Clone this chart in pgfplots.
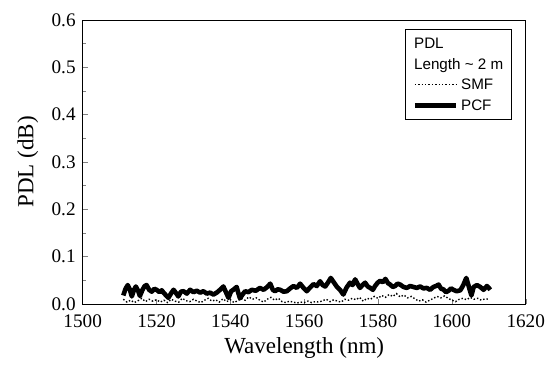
\documentclass[border=0pt]{standalone}
\usepackage{fontspec}
\setmainfont{Liberation Serif}
\newfontfamily\timesf{Liberation Serif}
\newfontfamily\arial{Liberation Sans}
\usepackage{pgfplots}
\usepackage{pgfplotstable}
\pgfplotsset{compat=1.18}

\pgfplotstableread{
x y
1511.0 0.018
1511.6 0.032
1512.2 0.040
1512.8 0.030
1513.3 0.016
1513.9 0.030
1514.4 0.037
1515.0 0.028
1515.5 0.017
1516.2 0.030
1516.8 0.038
1517.3 0.040
1518.0 0.030
1518.7 0.026
1519.4 0.032
1520.0 0.030
1520.8 0.025
1521.4 0.029
1521.9 0.024
1522.6 0.018
1523.2 0.013
1523.9 0.022
1524.6 0.030
1525.2 0.024
1525.9 0.016
1526.6 0.026
1527.3 0.027
1528.2 0.022
1529.1 0.030
1530.0 0.025
1530.9 0.028
1531.8 0.024
1532.7 0.027
1533.6 0.022
1534.5 0.024
1535.4 0.020
1536.3 0.024
1537.2 0.030
1538.1 0.037
1538.8 0.025
1539.5 0.013
1540.2 0.027
1540.8 0.030
1541.7 0.036
1542.2 0.022
1542.6 0.012
1543.3 0.020
1544.0 0.027
1544.9 0.025
1545.8 0.030
1546.9 0.028
1548.0 0.034
1549.0 0.030
1550.0 0.036
1550.8 0.043
1551.5 0.030
1552.1 0.027
1552.8 0.031
1553.5 0.030
1554.4 0.026
1555.3 0.027
1556.2 0.033
1557.1 0.038
1558.0 0.034
1558.9 0.043
1559.8 0.034
1560.7 0.027
1561.6 0.035
1562.5 0.042
1563.4 0.038
1564.3 0.048
1565.0 0.040
1565.7 0.037
1566.5 0.046
1567.2 0.055
1568.0 0.046
1568.8 0.037
1569.7 0.030
1570.6 0.020
1571.5 0.035
1572.4 0.045
1573.1 0.040
1573.8 0.052
1574.5 0.042
1575.1 0.034
1575.8 0.040
1576.5 0.045
1577.2 0.037
1577.9 0.034
1578.6 0.030
1579.2 0.038
1579.9 0.045
1580.6 0.049
1581.3 0.046
1582.0 0.053
1582.7 0.044
1583.3 0.041
1584.0 0.036
1584.6 0.038
1585.3 0.043
1586.0 0.041
1586.9 0.036
1587.8 0.034
1588.7 0.038
1589.6 0.036
1590.5 0.034
1591.4 0.037
1592.3 0.033
1593.2 0.034
1594.1 0.030
1595.0 0.036
1595.7 0.038
1596.4 0.041
1597.1 0.032
1597.7 0.031
1598.4 0.025
1599.1 0.028
1599.8 0.033
1600.4 0.030
1601.3 0.027
1602.3 0.029
1603.1 0.040
1603.9 0.055
1604.4 0.042
1604.8 0.031
1605.3 0.018
1605.9 0.036
1606.8 0.040
1607.7 0.036
1608.6 0.030
1609.5 0.038
1610.0 0.034
1610.4 0.030
}\pcf

\pgfplotstableread{
x y
1511 0.010
1512 0.004
1513 0.008
1514 0.003
1515 0.007
1516 0.012
1517 0.005
1518 0.010
1519 0.006
1520 0.009
1521 0.004
1522 0.008
1523 0.003
1524 0.010
1525 0.006
1526 0.004
1527 0.012
1528 0.007
1529 0.005
1530 0.010
1531 0.006
1532 0.003
1533 0.008
1534 0.012
1535 0.006
1536 0.009
1537 0.004
1538 0.011
1539 0.005
1540 0.009
1541 0.003
1542 0.007
1543 0.012
1544 0.008
1545 0.015
1546 0.010
1547 0.013
1548 0.008
1549 0.004
1550 0.010
1551 0.014
1552 0.008
1553 0.012
1554 0.005
1555 0.003
1556 0.006
1557 0.004
1558 0.002
1559 0.004
1560 0.003
1561 0.006
1562 0.003
1563 0.005
1564 0.004
1565 0.007
1566 0.010
1567 0.005
1568 0.009
1569 0.006
1570 0.004
1571 0.010
1572 0.008
1573 0.012
1574 0.009
1575 0.014
1576 0.006
1577 0.012
1578 0.010
1579 0.016
1580 0.012
1581 0.018
1582 0.014
1583 0.020
1584 0.016
1585 0.022
1586 0.015
1587 0.019
1588 0.013
1589 0.016
1590 0.011
1591 0.006
1592 0.009
1593 0.004
1594 0.008
1595 0.012
1596 0.016
1597 0.013
1598 0.017
1599 0.012
1600 0.008
1601 0.005
1602 0.010
1603 0.012
1604 0.009
1605 0.014
1606 0.010
1607 0.012
1608 0.008
1609 0.011
1610 0.010
}\smf

\begin{document}
\begin{tikzpicture}
\begin{axis}[
  scale only axis, width=221.5pt, height=142pt,
  xmin=1500, xmax=1620, ymin=0, ymax=0.6,
  xtick={1500,1520,...,1620},
  ytick={0,0.1,0.2,0.3,0.4,0.5,0.6},
  minor y tick num=1,
  tick align=inside,
  xtick pos=left, ytick pos=left,
  major tick length=2.5pt, minor tick length=1.5pt,
  xticklabel={\timesf\pgfmathprintnumber[assume math mode=true,1000 sep={}]{\tick}},
  yticklabel={\timesf\pgfmathprintnumber[assume math mode=true,fixed,fixed zerofill,precision=1]{\tick}},
  xticklabel style={yshift=-2pt},
  tick label style={font=\timesf\fontsize{9.6}{11}\selectfont},
  label style={font=\timesf\fontsize{11.5}{13}\selectfont},
  xlabel={Wavelength (nm)}, ylabel={PDL (dB)},
  xlabel style={at={(axis description cs:0.5,-0.155)}, anchor=center},
  ylabel style={at={(axis description cs:-0.124,0.5)}, anchor=center},
  legend cell align=left,
  legend image code/.code={\draw[#1] (0pt,0pt) -- (20.5pt,0pt);},
  legend style={at={(0.968,0.968)}, anchor=north east, draw=black,
    font=\arial\fontsize{7.6}{9.4}\selectfont,
    inner xsep=3.5pt, inner ysep=3pt, row sep=2.2pt,
    nodes={inner ysep=0pt, inner xsep=1.5pt}},
]
\addlegendimage{empty legend}
\addlegendentry{\makebox[0pt][l]{\hspace*{-23.5pt}PDL}\strut}
\addlegendimage{empty legend}
\addlegendentry{\makebox[20pt][l]{\hspace*{-23.5pt}Length \textasciitilde{} 2 m}\strut}
\addplot[black, line width=0.7pt, densely dotted] table[x=x, y=y] {\smf};
\addlegendentry{\makebox[20pt][l]{SMF}\strut}
\addplot[black, line width=2.3pt, line join=round] table[x=x, y=y] {\pcf};
\addlegendentry{\makebox[20pt][l]{PCF}\strut}
\end{axis}
\path ([shift={(-41.35pt,-27.85pt)}]current axis.south west) rectangle ([shift={(13.15pt,10pt)}]current axis.north east);
\end{tikzpicture}
\end{document}
